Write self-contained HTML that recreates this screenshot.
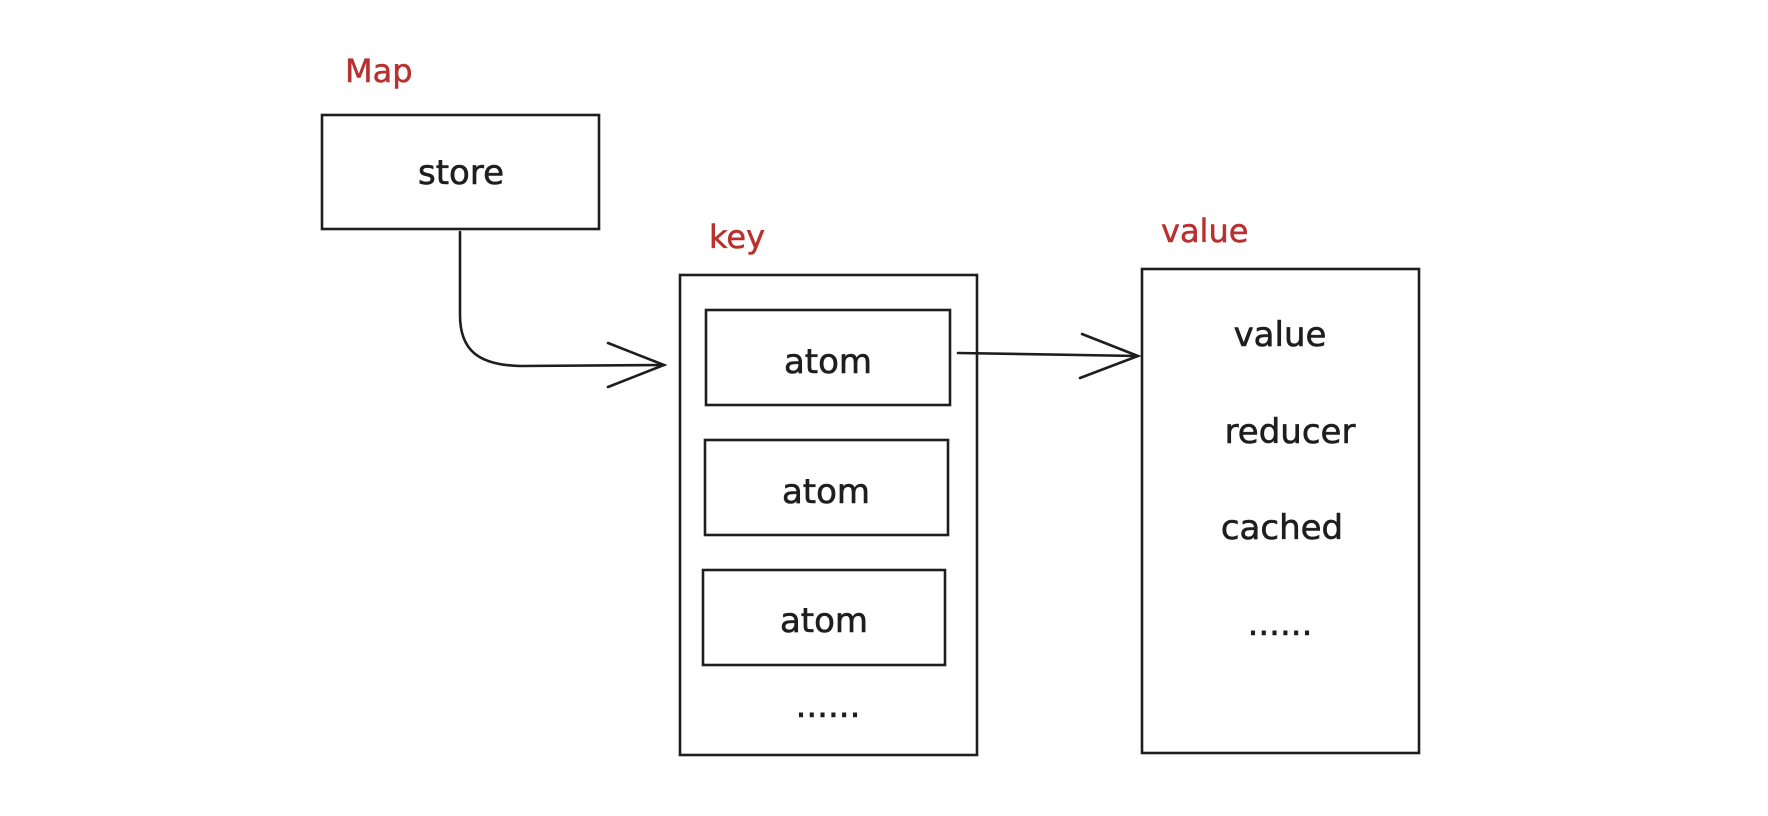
<!DOCTYPE html>
<html><head><meta charset="utf-8"><style>
html,body{margin:0;padding:0;background:#fff;}
svg{display:block}
text{font-family:"DejaVu Sans","Liberation Sans",sans-serif;}
</style></head><body>
<svg width="1768" height="816" viewBox="0 0 1768 816" xmlns="http://www.w3.org/2000/svg">
<g fill="none" stroke="#1e1e1e" stroke-width="2.6" stroke-linecap="round">
<rect x="322" y="115" width="277" height="114"/>
<rect x="680" y="275" width="297" height="480"/>
<rect x="706" y="310" width="244" height="95"/>
<rect x="705" y="440" width="243" height="95"/>
<rect x="703" y="570" width="242" height="95"/>
<rect x="1142" y="269" width="277" height="484"/>
<path d="M460 232 L460 315 C460 350 478 365 520 366 L664 365"/>
<path d="M608 343 L664 365 L608 387"/>
<path d="M958 353 L1138 356"/>
<path d="M1082 334 L1138 356 L1080 378"/>
</g>
<g font-size="34" fill="#1e1e1e" text-anchor="middle" stroke="#1e1e1e" stroke-width="0.6">
<text x="461" y="184">store</text>
<text x="828" y="373">atom</text>
<text x="826" y="503">atom</text>
<text x="824" y="632">atom</text>
<text x="828" y="717">......</text>
<text x="1280" y="346">value</text>
<text x="1290" y="443">reducer</text>
<text x="1282" y="539">cached</text>
<text x="1280" y="635">......</text>
</g>
<g font-size="32" fill="#b8312f" stroke="#b8312f" stroke-width="0.5">
<text x="345" y="82">Map</text>
<text x="709" y="248">key</text>
<text x="1161" y="242">value</text>
</g>
</svg>
</body></html>
